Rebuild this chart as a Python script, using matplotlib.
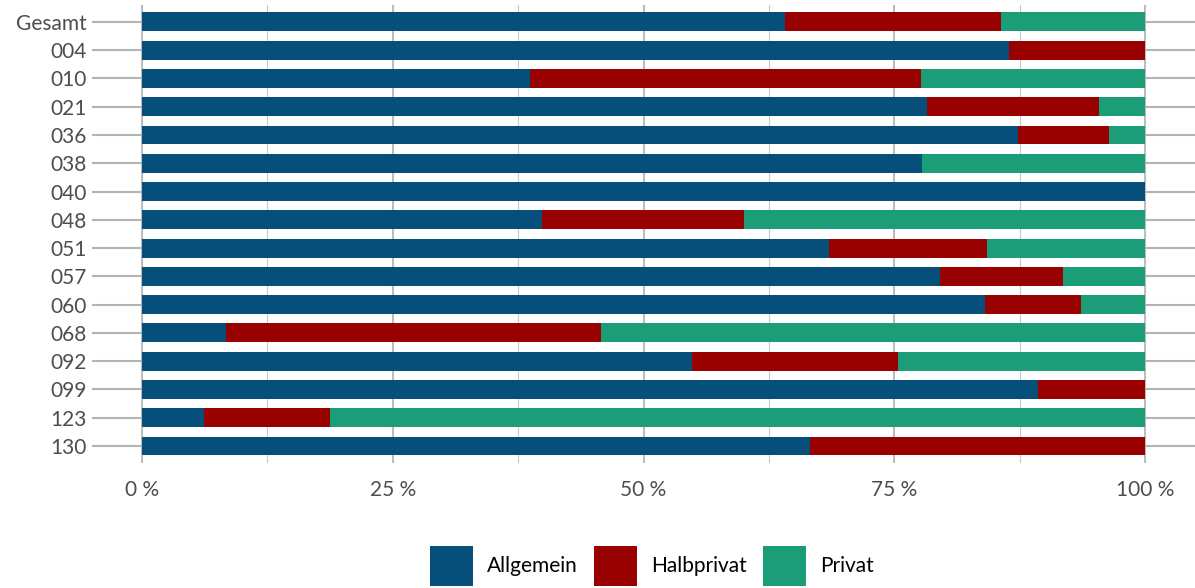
import numpy as np
import matplotlib.pyplot as plt
from matplotlib.patches import Patch

plt.rcParams['font.family'] = ['Lato', 'DejaVu Sans']

# Share of cases per ward (percent)
categories = ["Gesamt", "004", "010", "021", "036", "038", "040", "048",
              "051", "057", "060", "068", "092", "099", "123", "130"]
allgemein = [64.1, 86.5, 38.7, 78.3, 87.3, 77.8, 100.0, 39.9,
             68.5, 79.6, 84.1, 8.4, 54.8, 89.3, 6.2, 66.6]
halbprivat = [21.6, 13.5, 39.0, 17.1, 9.1, 0.0, 0.0, 20.1,
              15.8, 12.2, 9.5, 37.4, 20.6, 10.7, 12.5, 33.4]
privat = [100 - a - h for a, h in zip(allgemein, halbprivat)]

series = ["Allgemein", "Halbprivat", "Privat"]
colors = ["#054f7a", "#990000", "#1b9e77"]
xticks = [0, 25, 50, 75, 100]
xticklabels = ["0 %", "25 %", "50 %", "75 %", "100 %"]

fig = plt.figure(figsize=(11.95, 5.88), dpi=100)
ax = fig.add_axes([0.077, 0.2126, 0.923, 0.779])

n = len(categories)
y = np.arange(n)[::-1] + 1  # Gesamt at the top

left = np.zeros(n)
for vals, col in zip([allgemein, halbprivat, privat], colors):
    vals = np.array(vals)
    ax.barh(y, vals, left=left, height=0.67, color=col, zorder=3)
    left += vals

ax.set_xlim(-5, 105)
ax.set_ylim(0.4, n + 0.6)

ax.set_yticks(y)
ax.set_yticklabels(categories)
ax.set_xticks(xticks)
ax.set_xticklabels(xticklabels)
ax.set_xticks([12.5, 37.5, 62.5, 87.5], minor=True)

ax.grid(axis="y", color="#b3b3b3", linewidth=1.5, zorder=0)
ax.grid(axis="x", which="major", color="#bdbdbd", linewidth=1.5, zorder=0)
ax.grid(axis="x", which="minor", color="#c8c8c8", linewidth=0.8, zorder=0)
ax.tick_params(axis="both", which="both", length=0, labelsize=15, labelcolor="#4d4d4d")
ax.tick_params(axis="x", pad=12)
ax.tick_params(axis="y", pad=4)
for s in ax.spines.values():
    s.set_visible(False)

handles = [Patch(facecolor=c, edgecolor="none") for c in colors]
fig.legend(handles, series, loc="upper center", bbox_to_anchor=(0.5456, 0.0714),
           ncol=3, frameon=False, fontsize=15, handlelength=2.07, handleheight=2.6,
           handletextpad=0.67, columnspacing=0.77, borderaxespad=0, borderpad=0)

fig.savefig("out.png", dpi=100)
